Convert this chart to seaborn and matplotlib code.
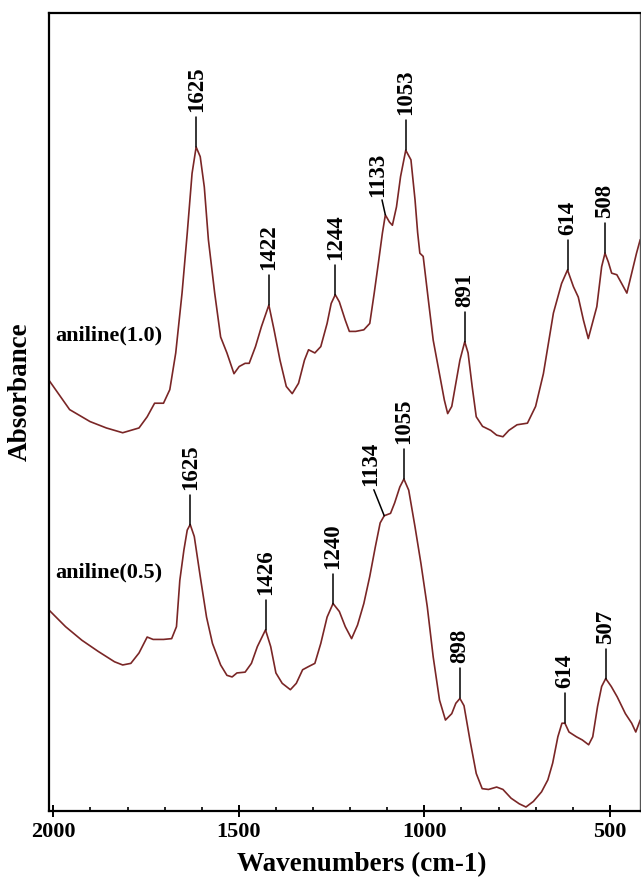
import numpy as np
import pandas as pd
import seaborn as sns
import matplotlib.pyplot as plt

# FTIR spectra (absorbance in arbitrary units, 0..1 of the frame)
wn_10 = [2012, 1956, 1901, 1857, 1813, 1769, 1747, 1727, 1703, 1686, 1670, 1653, 1639,
         1626, 1615, 1604, 1593, 1582, 1565, 1549, 1532, 1513, 1499, 1483, 1472, 1455,
         1439, 1419, 1405, 1389, 1372, 1356, 1339, 1323, 1312, 1295, 1279, 1262, 1251,
         1240, 1229, 1213, 1202, 1185, 1163, 1147, 1135, 1124, 1113, 1105, 1094, 1086,
         1075, 1064, 1050, 1036, 1025, 1018, 1012, 1003, 989, 976, 960, 946, 937, 926,
         915, 904, 891, 882, 871, 860, 843, 821, 805, 788, 772, 750, 722, 700, 679, 652,
         630, 614, 598, 585, 571, 558, 535, 522, 513, 504, 495, 481, 468, 454, 441, 428, 418]
abs_10 = [0.540, 0.503, 0.488, 0.480, 0.474, 0.480, 0.494, 0.511, 0.511, 0.528, 0.574, 0.649,
          0.724, 0.799, 0.832, 0.820, 0.782, 0.716, 0.649, 0.594, 0.574, 0.548, 0.557, 0.561,
          0.561, 0.582, 0.607, 0.634, 0.603, 0.565, 0.532, 0.523, 0.536, 0.565, 0.578, 0.574,
          0.582, 0.611, 0.636, 0.647, 0.638, 0.615, 0.601, 0.601, 0.603, 0.611, 0.649, 0.686,
          0.724, 0.747, 0.738, 0.734, 0.757, 0.795, 0.828, 0.816, 0.766, 0.725, 0.699, 0.695,
          0.640, 0.590, 0.550, 0.515, 0.498, 0.507, 0.536, 0.565, 0.588, 0.574, 0.532, 0.494,
          0.482, 0.477, 0.471, 0.469, 0.477, 0.484, 0.486, 0.507, 0.548, 0.624, 0.661, 0.678,
          0.657, 0.644, 0.615, 0.592, 0.632, 0.682, 0.699, 0.688, 0.674, 0.672, 0.661, 0.649,
          0.674, 0.699, 0.716]

wn_05 = [2012, 1967, 1923, 1879, 1835, 1813, 1791, 1769, 1747, 1731, 1703, 1681, 1668,
         1659, 1648, 1639, 1631, 1620, 1604, 1587, 1571, 1549, 1532, 1518, 1505, 1483,
         1466, 1450, 1428, 1414, 1400, 1383, 1361, 1345, 1328, 1312, 1295, 1279, 1262,
         1246, 1229, 1213, 1196, 1180, 1163, 1147, 1132, 1119, 1108, 1091, 1080, 1066,
         1055, 1042, 1025, 1009, 992, 976, 959, 943, 926, 915, 904, 893, 877, 860, 844,
         827, 805, 788, 766, 744, 726, 706, 684, 667, 654, 640, 629, 621, 610, 590, 574,
         557, 546, 533, 522, 511, 496, 480, 458, 441, 430, 418]
abs_05 = [0.252, 0.231, 0.214, 0.200, 0.187, 0.183, 0.185, 0.198, 0.218, 0.215, 0.215, 0.216,
          0.231, 0.289, 0.327, 0.352, 0.359, 0.344, 0.294, 0.243, 0.210, 0.183, 0.170, 0.168,
          0.173, 0.174, 0.185, 0.206, 0.227, 0.206, 0.173, 0.160, 0.152, 0.160, 0.177, 0.181,
          0.185, 0.210, 0.243, 0.260, 0.250, 0.231, 0.216, 0.233, 0.260, 0.294, 0.331, 0.361,
          0.370, 0.373, 0.386, 0.406, 0.416, 0.402, 0.356, 0.310, 0.256, 0.193, 0.139, 0.114,
          0.122, 0.135, 0.141, 0.132, 0.089, 0.047, 0.028, 0.027, 0.030, 0.027, 0.016, 0.009,
          0.005, 0.012, 0.024, 0.039, 0.060, 0.093, 0.110, 0.110, 0.099, 0.093, 0.089, 0.083,
          0.093, 0.131, 0.156, 0.166, 0.156, 0.143, 0.122, 0.110, 0.099, 0.114]

# peak labels and where their markers sit on the curves
peaks_10 = ['1625', '1422', '1244', '1133', '1053', '891', '614', '508']
peak_pos_10 = [1615, 1419, 1240, 1105, 1050, 891, 614, 513]
peaks_05 = ['1625', '1426', '1240', '1134', '1055', '898', '614', '507']
peak_pos_05 = [1631, 1428, 1246, 1108, 1055, 904, 621, 511]

xticks = [2000, 1500, 1000, 500]
sample_names = ['aniline(1.0)', 'aniline(0.5)']

# layout of the slanted leader lines: (line top dx, line px, text dx, gap px)
slanted = {('top', '1133'): (9, 15, 20, 3), ('bot', '1134'): (28, 26, 38, 4)}

W, H = 641, 883
AX_PX = 798  # frame height in pixels
CURVE = '#7a2626'


def annotate_peaks(ax, xs, ys, labels, pos, tag):
    xs_inc = np.array(xs[::-1], dtype=float)
    ys_inc = np.array(ys[::-1], dtype=float)
    for lab, xp in zip(labels, pos):
        yp = np.interp(xp, xs_inc, ys_inc)
        ldx, llen, tdx, gap = slanted.get((tag, lab), (0, 30, 0, 5))
        ytop = yp + llen / AX_PX
        ax.plot([xp, xp + ldx], [yp, ytop], color='black', lw=1.1)
        ax.text(xp + tdx, ytop + gap / AX_PX, lab, rotation=90, ha='center',
                va='bottom', fontsize=16.5, fontweight='bold', color='black')


def main():
    sns.set_style('ticks')
    plt.rcParams['font.family'] = ['Liberation Serif', 'DejaVu Serif']
    plt.rcParams['font.weight'] = 'bold'
    plt.rcParams['text.color'] = 'black'
    plt.rcParams['axes.labelcolor'] = 'black'
    plt.rcParams['xtick.color'] = 'black'

    df = pd.concat([
        pd.DataFrame({'wn': wn_10, 'A': abs_10, 'sample': sample_names[0]}),
        pd.DataFrame({'wn': wn_05, 'A': abs_05, 'sample': sample_names[1]}),
    ])

    fig = plt.figure(figsize=(W / 100, H / 100), dpi=100)
    ax = fig.add_axes([49 / W, 1 - 811 / H, 591 / W, AX_PX / H])

    sns.lineplot(data=df, x='wn', y='A', hue='sample', units='sample', estimator=None,
                 palette=[CURVE, CURVE], lw=1.2, legend=False, ax=ax)

    annotate_peaks(ax, wn_10, abs_10, peaks_10, peak_pos_10, 'top')
    annotate_peaks(ax, wn_05, abs_05, peaks_05, peak_pos_05, 'bot')

    ax.text(0.010, 0.590, sample_names[0], transform=ax.transAxes, fontsize=16,
            fontweight='bold', va='baseline', color='black')
    ax.text(0.010, 0.292, sample_names[1], transform=ax.transAxes, fontsize=16,
            fontweight='bold', va='baseline', color='black')

    ax.set_xlim(2011.6, 418.6)
    ax.set_ylim(0, 1)
    ax.set_xticks(xticks)
    ax.set_xticklabels([str(t) for t in xticks])
    ax.set_xticks(np.arange(2000, 400, -100), minor=True)
    ax.set_yticks([])
    ax.tick_params(axis='x', which='major', direction='inout', length=8, width=1.4,
                   labelsize=16, pad=4, colors='black')
    ax.tick_params(axis='x', which='minor', direction='in', length=3, width=1.2,
                   colors='black')

    for side in ['left', 'bottom', 'top']:
        ax.spines[side].set_linewidth(1.6)
        ax.spines[side].set_color('black')
    ax.spines['right'].set_linewidth(1.0)
    ax.spines['right'].set_color('#555555')

    ax.set_xlabel('Wavenumbers (cm-1)', fontsize=19.5, fontweight='bold', color='black')
    ax.xaxis.set_label_coords(0.5296, -0.0514)
    ax.set_ylabel('Absorbance', fontsize=19.5, fontweight='bold', color='black')
    ax.yaxis.set_label_coords(-0.027, 0.525)

    fig.savefig('out.png', dpi=100)


if __name__ == '__main__':
    main()
